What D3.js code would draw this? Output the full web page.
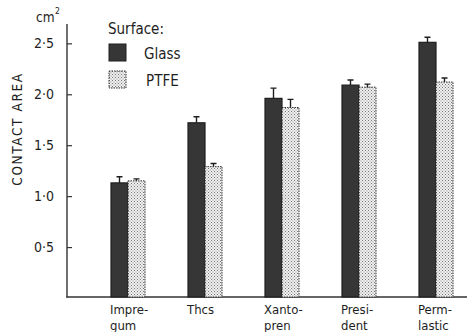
<!DOCTYPE html>
<html><head><meta charset="utf-8">
<script src="https://cdn.jsdelivr.net/npm/d3@7"></script>
<style>
body{margin:0;background:#fff;}
text{font-family:"DejaVu Sans Condensed","DejaVu Sans",sans-serif;fill:#1e1e1e;}
</style></head>
<body><svg id="c" width="467" height="332"></svg>
<script>
const categories = [["Impre-","gum"],["Thcs"],["Xanto-","pren"],["Presi-","dent"],["Perm-","lastic"]];
const categoryKeys = ["Impregum","Thcs","Xantopren","President","Permlastic"];
const series = ["Glass","PTFE"];
const glassValues = [1.13, 1.72, 1.96, 2.09, 2.51];
const glassErrors = [0.06, 0.06, 0.10, 0.05, 0.05];
const ptfeValues = [1.15, 1.29, 1.87, 2.07, 2.12];
const ptfeErrors = [0.02, 0.03, 0.08, 0.03, 0.04];
const yTicks = [0.5, 1.0, 1.5, 2.0, 2.5];

const svg = d3.select("#c");
const defs = svg.append("defs");
const pat = defs.append("pattern").attr("id","dots").attr("patternUnits","userSpaceOnUse")
  .attr("width",3).attr("height",3);
pat.append("rect").attr("width",3).attr("height",3).attr("fill","#f0f0f0");
pat.append("rect").attr("x",0).attr("y",0).attr("width",1).attr("height",1).attr("fill","#777");
pat.append("rect").attr("x",1.5).attr("y",1.5).attr("width",1).attr("height",1).attr("fill","#888");

const y = d3.scaleLinear().domain([0, 2.69]).range([298, 24]);
const x0 = d3.scalePoint().domain(categoryKeys).range([128, 436]);
const x1 = d3.scaleBand().domain(series).range([-17, 17]);

const yAxis = d3.axisLeft(y).tickValues(yTicks).tickSize(-5).tickPadding(13)
  .tickFormat(d => d3.format(".1f")(d).replace(".", "·"));
const ga = svg.append("g").attr("transform","translate(67,0)").call(yAxis);
ga.select(".domain").remove();
ga.selectAll(".tick line").attr("stroke","#333").attr("stroke-width",1.2);
ga.selectAll(".tick text").attr("font-size",14).attr("fill","#1e1e1e")
  .style("font-family","'DejaVu Sans Condensed','DejaVu Sans',sans-serif");
svg.append("line").attr("x1",67).attr("x2",67).attr("y1",y(2.69)).attr("y2",y(0)-0.5)
  .attr("stroke","#333").attr("stroke-width",1.4);
svg.append("line").attr("x1",66.3).attr("x2",467).attr("y1",y(0)-1).attr("y2",y(0)-1)
  .attr("stroke","#333").attr("stroke-width",1.4);

svg.append("text").attr("x",36).attr("y",22).attr("font-size",13.5).text("cm");
svg.append("text").attr("x",55).attr("y",14).attr("font-size",8.5).text("2");
svg.append("text").attr("transform","translate(22,129) rotate(-90)")
  .attr("text-anchor","middle").attr("font-size",13.5).attr("letter-spacing",1.6).text("CONTACT AREA");

const data = categoryKeys.map((k,i)=>({k, vals:[
  {s:"Glass", v:glassValues[i], e:glassErrors[i]},
  {s:"PTFE", v:ptfeValues[i], e:ptfeErrors[i]}]}));
const g = svg.selectAll(".grp").data(data).join("g")
  .attr("transform", d=>`translate(${x0(d.k)},0)`);
g.selectAll("rect").data(d=>d.vals).join("rect")
  .attr("x", d=>x1(d.s)).attr("width", x1.bandwidth())
  .attr("y", d=>y(d.v)).attr("height", d=>y(0)-1-y(d.v))
  .attr("fill", d=>d.s==="Glass" ? "#363636" : "url(#dots)")
  .attr("stroke", d=>d.s==="Glass" ? "#1e1e1e" : "#333")
  .attr("stroke-width", d=>d.s==="Glass" ? 1.2 : 1)
  .attr("stroke-dasharray", d=>d.s==="Glass" ? null : "1.5,1");
g.selectAll(".err").data(d=>d.vals).join("path").attr("class","err")
  .attr("d", d=>{const cx = x1(d.s)+x1.bandwidth()/2;
    return `M${cx},${y(d.v)}V${y(d.v+d.e)}M${cx-3},${y(d.v+d.e)}H${cx+3}`;})
  .attr("stroke","#1e1e1e").attr("stroke-width",1.4).attr("fill","none");

const lines = [];
categories.forEach((c,i)=>c.forEach((t,j)=>lines.push({t, i, j})));
svg.selectAll(".cl").data(lines).join("text").attr("class","cl")
  .attr("x", d=>x0(categoryKeys[d.i])-18).attr("y", d=>313.5+d.j*16)
  .attr("font-size",13).text(d=>d.t);

svg.append("text").attr("x",108).attr("y",34).attr("font-size",15).text("Surface:");
const lg = svg.selectAll(".lg").data(series).join("g").attr("class","lg")
  .attr("transform",(d,i)=>`translate(109,${44+i*27})`);
lg.append("rect").attr("width",17).attr("height",17)
  .attr("fill",d=>d==="Glass"?"#363636":"url(#dots)")
  .attr("stroke",d=>d==="Glass"?"#1e1e1e":"#333")
  .attr("stroke-dasharray",d=>d==="Glass"?null:"1.5,1");
lg.append("text").attr("x",d=>d==="Glass"?35:37).attr("y",15).attr("font-size",15).text(d=>d);
</script></body></html>
